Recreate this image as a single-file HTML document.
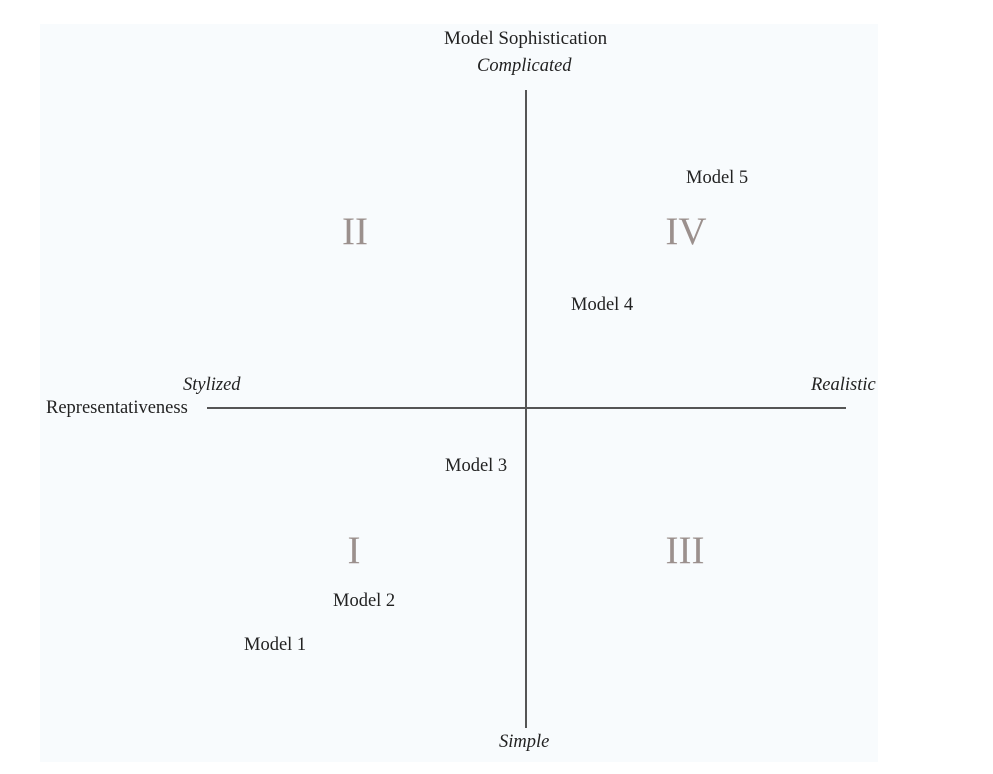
<!DOCTYPE html>
<html><head><style>
html,body{margin:0;padding:0;background:#fff;}
#c{position:relative;width:993px;height:774px;overflow:hidden;font-family:"Liberation Serif",serif;color:#222;}
#p{position:absolute;left:40px;top:24px;width:838px;height:738px;background:#f8fbfd;}
.t{position:absolute;font-size:18.5px;white-space:nowrap;line-height:1;}
.i{font-style:italic;}
.r{position:absolute;font-size:39px;color:#9b908d;line-height:1;transform:translateX(-50%);}
.l{position:absolute;background:#555;}
</style></head><body><div id="c">
<div id="p"></div>
<div class="l" style="left:525px;top:90px;width:2px;height:638px;"></div>
<div class="l" style="left:207px;top:407px;width:639px;height:2px;"></div>
<div class="t" style="left:444px;top:29px;font-size:19px;">Model Sophistication</div>
<div class="t i" style="left:477px;top:57px;">Complicated</div>
<div class="t i" style="left:499px;top:733px;">Simple</div>
<div class="t i" style="left:183px;top:376px;">Stylized</div>
<div class="t" style="left:46px;top:399px;">Representativeness</div>
<div class="t i" style="left:811px;top:376px;">Realistic</div>
<div class="t" style="left:686px;top:169px;">Model 5</div>
<div class="t" style="left:571px;top:296px;">Model 4</div>
<div class="t" style="left:445px;top:457px;">Model 3</div>
<div class="t" style="left:333px;top:592px;">Model 2</div>
<div class="t" style="left:244px;top:636px;">Model 1</div>
<div class="r" style="left:355px;top:212px;">II</div>
<div class="r" style="left:686px;top:212px;">IV</div>
<div class="r" style="left:354px;top:531px;">I</div>
<div class="r" style="left:685px;top:531px;">III</div>
</div></body></html>
